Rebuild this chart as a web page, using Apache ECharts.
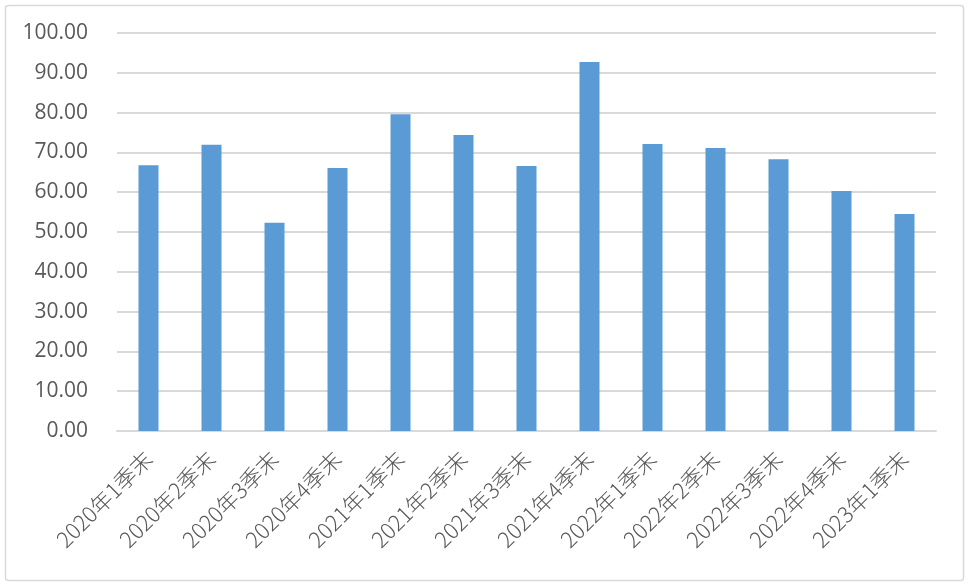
<!DOCTYPE html>
<html><head><meta charset="utf-8">
<script src="https://cdn.jsdelivr.net/npm/echarts@6/dist/echarts.min.js"></script>
<style>html,body{margin:0;padding:0;background:#fff}#c{width:970px;height:586px}</style>
</head><body><div id="c"></div>
<script>
const categories = ['2020年1季末','2020年2季末','2020年3季末','2020年4季末','2021年1季末','2021年2季末','2021年3季末','2021年4季末','2022年1季末','2022年2季末','2022年3季末','2022年4季末','2023年1季末'];
const values = [66.8, 71.9, 52.3, 66.1, 79.6, 74.4, 66.6, 92.7, 72.1, 71.1, 68.3, 60.3, 54.5];
const yMin = 0, yMax = 100, yStep = 10;

const chart = echarts.init(document.getElementById('c'), null, {renderer:'canvas'});
chart.setOption({
  animation: false,
  backgroundColor: '#fff',
  graphic: [{type:'rect', shape:{x:5.5,y:5.5,width:958,height:575,r:3}, style:{fill:'none', stroke:'#d9d9d9', lineWidth:1.5}, silent:true}],
  grid: {left:117, right:34, top:33, bottom:155},
  xAxis: {
    type:'category', data:categories,
    axisLine:{lineStyle:{color:'#d9d9d9', width:2}},
    axisTick:{show:false},
    axisLabel:{rotate:45, margin:24, fontSize:22, color:'#595959', fontWeight:300, fontFamily:'"Noto Sans CJK SC", sans-serif', interval:0}
  },
  yAxis: {
    type:'value', min:yMin, max:yMax, interval:yStep,
    axisLine:{show:false}, axisTick:{show:false},
    splitLine:{lineStyle:{color:'#d9d9d9', width:2}},
    axisLabel:{formatter:v=>v.toFixed(2), fontSize:21, color:'#595959', margin:29, fontFamily:'"Open Sans", sans-serif'}
  },
  series: [{type:'bar', data:values, barWidth:20, itemStyle:{color:'#5b9bd5'}}]
});
</script></body></html>
